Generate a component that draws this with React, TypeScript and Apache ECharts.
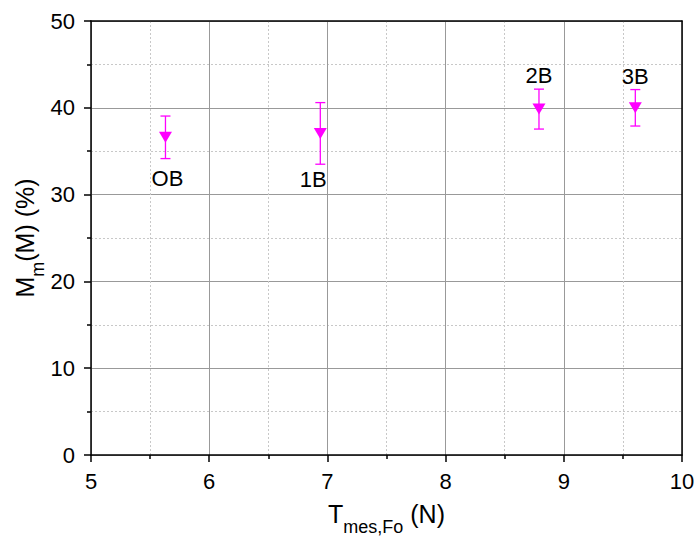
import React, { useEffect, useRef } from "react";
import * as echarts from "echarts";

const names = ["OB", "1B", "2B", "3B"];
const xValues = [5.63, 6.94, 8.79, 9.605];
const yValues = [36.6, 37.05, 39.85, 40.0];
const yErrors = [2.45, 3.55, 2.3, 2.1];
const labelSides = ["bottom", "bottom", "top", "top"];
const labelDistances = [25, 30, 17, 15];
const labelShiftX = [2, -7, 0, 0];

const FONT = "Liberation Sans, Arial, sans-serif";

export default function App() {
  const ref = useRef<HTMLDivElement>(null);
  useEffect(() => {
    const chart = echarts.init(ref.current!, null, { renderer: "svg" });
    const pts = xValues.map((x, i) => ({
      value: [x, yValues[i]],
      label: {
        show: true,
        formatter: names[i],
        position: labelSides[i],
        distance: labelDistances[i],
        offset: [labelShiftX[i], 0],
        color: "#000000",
        opacity: 1,
        textBorderWidth: 0,
        fontSize: 22,
        fontFamily: FONT,
      },
    }));
    const errData = xValues.map((x, i) => [x, yValues[i] - yErrors[i], yValues[i] + yErrors[i]]);
    const rich = {
      a: { fontSize: 25, fontFamily: FONT, color: "#000" },
      s: { fontSize: 18, fontFamily: FONT, color: "#000", verticalAlign: "bottom", padding: [0, 0, -10, 0] },
    };
    chart.setOption({
      animation: false,
      textStyle: { fontFamily: FONT },
      grid: { left: 91, top: 21, right: 17, bottom: 82, containLabel: false, outerBoundsMode: "none" },
      xAxis: [
        {
          type: "value",
          min: 5,
          max: 10,
          interval: 1,
          name: "{a|T}{s|mes,Fo}{a| (N)}",
          nameLocation: "middle",
          nameGap: 46,
          nameMoveOverlap: false,
          nameTextStyle: { rich },
          axisLine: { show: true, onZero: false, lineStyle: { color: "#000", width: 1.5 } },
          axisTick: { show: true, inside: false, length: 7, lineStyle: { color: "#000", width: 1.5 } },
          minorTick: { show: true, splitNumber: 2, length: 4, lineStyle: { color: "#000", width: 1.5 } },
          axisLabel: { fontSize: 22, color: "#000", margin: 15, fontFamily: FONT },
          splitLine: { show: true, lineStyle: { color: "#999", width: 1 } },
          minorSplitLine: { show: true, lineStyle: { color: "#c8c8c8", type: [2, 2], width: 1 } },
        },
        {
          type: "value",
          position: "top",
          min: 5,
          max: 10,
          axisLine: { show: true, onZero: false, lineStyle: { color: "#000", width: 1.5 } },
          axisTick: { show: false },
          axisLabel: { show: false },
          splitLine: { show: false },
        },
      ],
      yAxis: [
        {
          type: "value",
          min: 0,
          max: 50,
          interval: 10,
          name: "{a|M}{s|m}{a|(M) (%)}",
          nameLocation: "middle",
          nameGap: 54,
          nameMoveOverlap: false,
          nameTextStyle: { rich },
          axisLine: { show: true, onZero: false, lineStyle: { color: "#000", width: 1.5 } },
          axisTick: { show: true, inside: false, length: 7, lineStyle: { color: "#000", width: 1.5 } },
          minorTick: { show: true, splitNumber: 2, length: 4, lineStyle: { color: "#000", width: 1.5 } },
          axisLabel: { fontSize: 22, color: "#000", margin: 16, fontFamily: FONT },
          splitLine: { show: true, lineStyle: { color: "#999", width: 1 } },
          minorSplitLine: { show: true, lineStyle: { color: "#c8c8c8", type: [2, 2], width: 1 } },
        },
        {
          type: "value",
          position: "right",
          min: 0,
          max: 50,
          axisLine: { show: true, onZero: false, lineStyle: { color: "#000", width: 1.5 } },
          axisTick: { show: false },
          axisLabel: { show: false },
          splitLine: { show: false },
        },
      ],
      series: [
        {
          type: "custom",
          xAxisIndex: 0,
          yAxisIndex: 0,
          data: errData,
          renderItem: (params: any, api: any) => {
            const x = api.value(0);
            const lo = api.coord([x, api.value(1)]);
            const hi = api.coord([x, api.value(2)]);
            const hw = 5;
            const style = { stroke: "#ff00ff", lineWidth: 1.3 };
            return {
              type: "group",
              children: [
                { type: "line", shape: { x1: lo[0], y1: lo[1], x2: hi[0], y2: hi[1] }, style },
                { type: "line", shape: { x1: lo[0] - hw, y1: lo[1], x2: lo[0] + hw, y2: lo[1] }, style },
                { type: "line", shape: { x1: hi[0] - hw, y1: hi[1], x2: hi[0] + hw, y2: hi[1] }, style },
              ],
            };
          },
          z: 3,
        },
        {
          type: "scatter",
          xAxisIndex: 0,
          yAxisIndex: 0,
          symbol: "triangle",
          symbolRotate: 180,
          symbolSize: [13, 11],
          itemStyle: { color: "#ff00ff", opacity: 1 },
          data: pts,
          z: 4,
        },
      ],
    });
    return () => chart.dispose();
  }, []);
  return <div ref={ref} style={{ width: 699, height: 537, position: "absolute", left: 0, top: 0 }} />;
}
